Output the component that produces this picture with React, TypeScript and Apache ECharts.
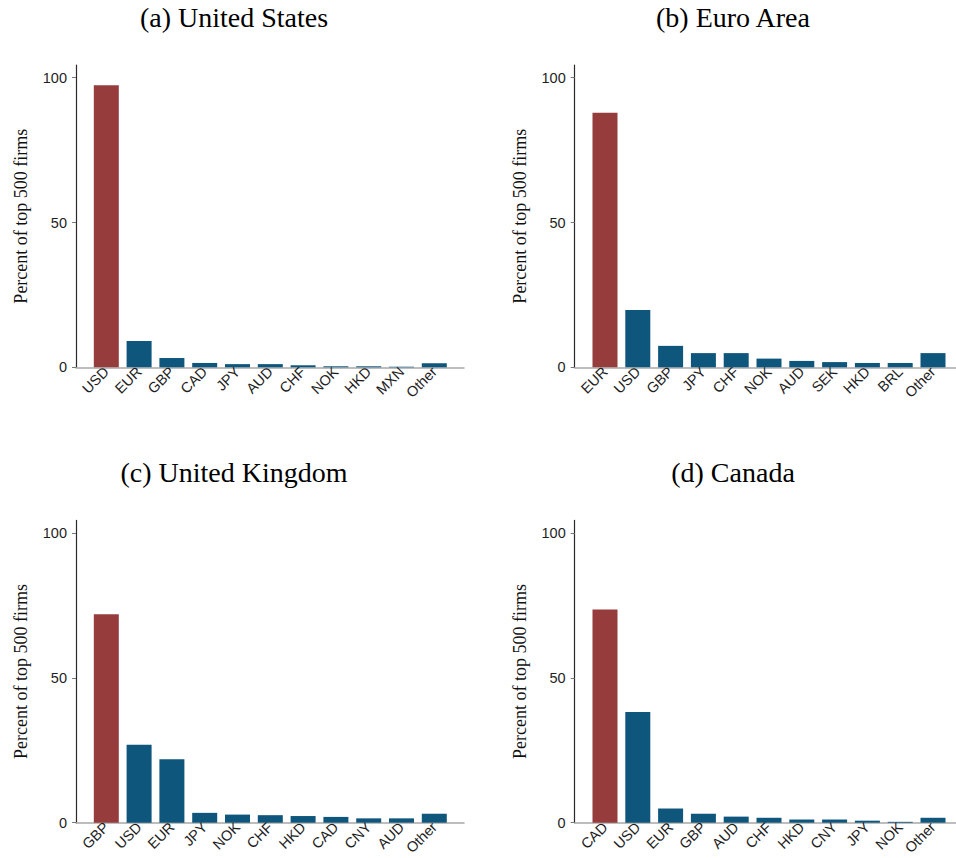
import React, { useEffect, useRef } from 'react';
import * as echarts from 'echarts';

const panelTitles = ['(a) United States', '(b) Euro Area', '(c) United Kingdom', '(d) Canada'];

const catsUS = ['USD', 'EUR', 'GBP', 'CAD', 'JPY', 'AUD', 'CHF', 'NOK', 'HKD', 'MXN', 'Other'];
const valsUS = [97.4, 9.1, 3.2, 1.5, 1.1, 1.1, 0.7, 0.35, 0.35, 0.2, 1.4];

const catsEA = ['EUR', 'USD', 'GBP', 'JPY', 'CHF', 'NOK', 'AUD', 'SEK', 'HKD', 'BRL', 'Other'];
const valsEA = [87.9, 19.8, 7.4, 4.9, 4.9, 3.0, 2.2, 1.8, 1.5, 1.5, 4.9];

const catsUK = ['GBP', 'USD', 'EUR', 'JPY', 'NOK', 'CHF', 'HKD', 'CAD', 'CNY', 'AUD', 'Other'];
const valsUK = [72.0, 26.9, 21.9, 3.4, 2.8, 2.6, 2.3, 2.0, 1.5, 1.5, 3.1];

const catsCA = ['CAD', 'USD', 'EUR', 'GBP', 'AUD', 'CHF', 'HKD', 'CNY', 'JPY', 'NOK', 'Other'];
const valsCA = [73.6, 38.2, 4.9, 3.1, 2.1, 1.7, 1.1, 1.1, 0.7, 0.3, 1.7];

const yMin = 0;
const yMax = 100;
const yInterval = 50;
const yAxisName = 'Percent of top 500 firms';

const panelCats = [catsUS, catsEA, catsUK, catsCA];
const panelVals = [valsUS, valsEA, valsUK, valsCA];

const SERIF = '"Liberation Serif", "Times New Roman", serif';
const SANS = '"Liberation Sans", Arial, sans-serif';
const RED = '#963c3d';
const BLUE = '#0f567c';

export default function App() {
  const ref = useRef<HTMLDivElement>(null);

  useEffect(() => {
    if (!ref.current) return;
    const chart = echarts.init(ref.current, null, { renderer: 'svg' });

    const grid: any[] = [];
    const xAxis: any[] = [];
    const yAxis: any[] = [];
    const series: any[] = [];
    const graphic: any[] = [];

    const titleX = [234, 733];
    const colDx = [0, 498.7];
    const rowDy = [0, 455.4];

    for (let i = 0; i < 4; i++) {
      const dx = colDx[i % 2];
      const dy = rowDy[Math.floor(i / 2)];
      const bg = 2 * i;
      const fg = 2 * i + 1;

      // bar grid
      grid.push({ left: 89.9 + dx, top: 77.7 + dy, width: 360.8, height: 289.6, containLabel: false, outerBoundsMode: 'none' });
      // frame grid
      grid.push({ left: 76 + dx, top: 65 + dy, width: 388, height: 302.3, containLabel: false, outerBoundsMode: 'none' });

      xAxis.push({
        type: 'category',
        gridIndex: bg,
        data: panelCats[i],
        boundaryGap: true,
        axisLine: { show: false },
        axisTick: { show: false },
        axisLabel: { interval: 0, rotate: 45, margin: 2, fontSize: 14.5, fontFamily: SANS, color: '#1e1e1e' },
      });
      xAxis.push({
        type: 'value',
        gridIndex: fg,
        min: 0,
        max: 1,
        axisLine: { show: true, onZero: false, lineStyle: { color: '#a8a8a8', width: 1.5 } },
        axisTick: { show: false },
        axisLabel: { show: false },
        splitLine: { show: false },
      });

      yAxis.push({
        type: 'value',
        gridIndex: bg,
        min: yMin,
        max: yMax,
        interval: yInterval,
        offset: 13.9,
        axisLine: { show: false },
        axisTick: { show: true, length: 4, lineStyle: { color: '#777', width: 1 } },
        axisLabel: { margin: 9, fontSize: 14.5, fontFamily: SANS, color: '#1e1e1e' },
        splitLine: { show: false },
      });
      yAxis.push({
        type: 'value',
        gridIndex: fg,
        min: 0,
        max: 104.4,
        axisLine: { show: true, onZero: false, lineStyle: { color: '#2a2a2a', width: 1.2 } },
        axisTick: { show: false },
        axisLabel: { show: false },
        splitLine: { show: false },
        name: yAxisName,
        nameLocation: 'middle',
        nameGap: 46,
        nameTextStyle: { fontFamily: SERIF, fontSize: 18, color: '#111' },
      });

      series.push({
        type: 'bar',
        xAxisIndex: bg,
        yAxisIndex: bg,
        data: panelVals[i],
        barWidth: 25,
        itemStyle: {
          color: (p: any) => (p.dataIndex === 0 ? RED : BLUE),
        },
        z: 1,
      });

      graphic.push({
        type: 'text',
        x: titleX[i % 2],
        y: 17 + dy,
        style: {
          text: panelTitles[i],
          fontSize: 28,
          fontFamily: SERIF,
          fill: '#000',
          align: 'center',
          verticalAlign: 'middle',
        },
      });
    }

    chart.setOption({
      animation: false,
      backgroundColor: '#ffffff',
      grid,
      xAxis,
      yAxis,
      series,
      graphic,
    });

    return () => chart.dispose();
  }, []);

  return (
    <div
      ref={ref}
      style={{ position: 'absolute', left: 0, top: 0, width: 956, height: 858 }}
    />
  );
}
